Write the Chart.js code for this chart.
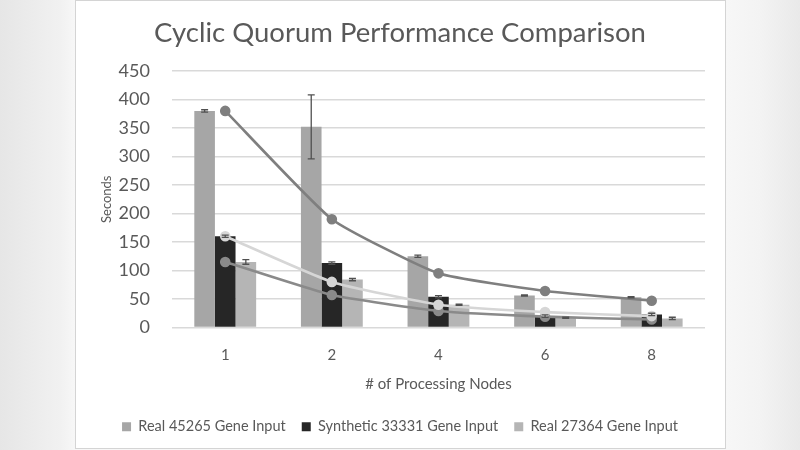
<!DOCTYPE html>
<html>
<head>
<meta charset="utf-8">
<script src="https://cdn.jsdelivr.net/npm/chart.js@4"></script>
<style>
  html, body { margin: 0; padding: 0; }
  body {
    width: 800px; height: 450px; overflow: hidden;
    background: linear-gradient(90deg, #e6e6e6 0px, #f1f1f1 60px, #f7f7f7 75px, #f7f7f7 725px, #f3f3f3 760px, #e9e9e9 800px);
    position: relative;
  }
  #box {
    position: absolute; left: 75px; top: 0px; width: 649px; height: 447px;
    background: #fff; border: 1px solid #d4d4d4;
  }
  canvas { display: block; }
</style>
</head>
<body>
<div id="box"><canvas id="chart" width="649" height="447"></canvas></div>
<script>
// 資料
const nodes = ['1', '2', '4', '6', '8'];
const real45265 = [380, 352, 125, 56, 53];
const synthetic33331 = [160, 113, 54, 20, 23];
const real27364 = [115, 84, 40, 17, 16];
const real45265Err = [2, 56, 2, 1, 1];
const synthetic33331Err = [2, 2, 2, 2, 2];
const real27364Err = [4, 2, 1, 1, 2];
const ideal45265 = [380, 190, 95, 64, 47];
const ideal33331 = [160, 80, 40, 27, 20];
const ideal27364 = [115, 57, 29, 19, 14];
const yTicks = [0, 50, 100, 150, 200, 250, 300, 350, 400, 450];

const FONT = 'Lato, "Open Sans", sans-serif';
const TEXT = '#595959';

// 誤差線
const errorBars = {
    id: 'errorBars',
    afterDatasetsDraw(chart) {
        const ctx = chart.ctx;
        const y = chart.scales.y;
        chart.data.datasets.forEach((ds, di) => {
            if (!ds.errors) return;
            const meta = chart.getDatasetMeta(di);
            meta.data.forEach((bar, i) => {
                const v = ds.data[i];
                const e = ds.errors[i];
                const top = y.getPixelForValue(v + e);
                const bot = y.getPixelForValue(v - e);
                ctx.save();
                ctx.strokeStyle = '#505050';
                ctx.lineWidth = 1.3;
                ctx.beginPath();
                ctx.moveTo(bar.x, top); ctx.lineTo(bar.x, bot);
                ctx.moveTo(bar.x - 3.5, top); ctx.lineTo(bar.x + 3.5, top);
                ctx.moveTo(bar.x - 3.5, bot); ctx.lineTo(bar.x + 3.5, bot);
                ctx.stroke();
                ctx.restore();
            });
        });
    }
};

function lineSet(data, color) {
    return {
        type: 'line',
        data: data,
        borderColor: color,
        backgroundColor: color,
        borderWidth: 2.6,
        pointRadius: 4,
        pointBackgroundColor: color,
        pointBorderColor: color,
        tension: 0.15,
        order: 0
    };
}

new Chart(document.getElementById('chart'), {
    type: 'bar',
    data: {
        labels: nodes,
        datasets: [
            { label: 'Real 45265 Gene Input', data: real45265, errors: real45265Err, backgroundColor: '#a6a6a6', order: 1 },
            { label: 'Synthetic 33331 Gene Input', data: synthetic33331, errors: synthetic33331Err, backgroundColor: '#262626', order: 1 },
            { label: 'Real 27364 Gene Input', data: real27364, errors: real27364Err, backgroundColor: '#b5b5b5', order: 1 },
            lineSet(ideal45265, '#7f7f7f'),
            lineSet(ideal33331, '#d6d6d6'),
            lineSet(ideal27364, '#8a8a8a')
        ]
    },
    options: {
        responsive: false,
        animation: false,
        devicePixelRatio: 1,
        categoryPercentage: 0.58,
        barPercentage: 1.0,
        layout: { padding: { left: 19, right: 20, top: 12, bottom: 4 } },
        plugins: {
            title: {
                display: true,
                text: 'Cyclic Quorum Performance Comparison',
                color: TEXT,
                font: { family: FONT, size: 27.5, weight: 'normal' },
                padding: { top: 4, bottom: 21 }
            },
            legend: {
                position: 'bottom',
                labels: {
                    filter: item => item.datasetIndex < 3,
                    color: TEXT,
                    font: { family: FONT, size: 14.5 },
                    boxWidth: 9, boxHeight: 9,
                    padding: 16
                }
            },
            tooltip: { enabled: false }
        },
        scales: {
            x: {
                grid: { display: false },
                border: { display: false },
                ticks: { color: TEXT, font: { family: FONT, size: 15 }, padding: 11 },
                title: { display: true, text: '# of Processing Nodes', color: TEXT, font: { family: FONT, size: 15 }, padding: { top: 0, bottom: 10 } }
            },
            y: {
                min: 0, max: 450,
                afterBuildTicks: axis => { axis.ticks = yTicks.map(v => ({ value: v })); },
                grid: { color: '#d9d9d9', lineWidth: 1.5, drawTicks: false },
                border: { display: false },
                ticks: { color: TEXT, font: { family: FONT, size: 18 }, padding: 22 },
                title: { display: true, text: 'Seconds', color: TEXT, font: { family: FONT, size: 13 }, padding: { top: 4, bottom: -18 } }
            }
        }
    },
    plugins: [errorBars]
});
</script>
</body>
</html>
